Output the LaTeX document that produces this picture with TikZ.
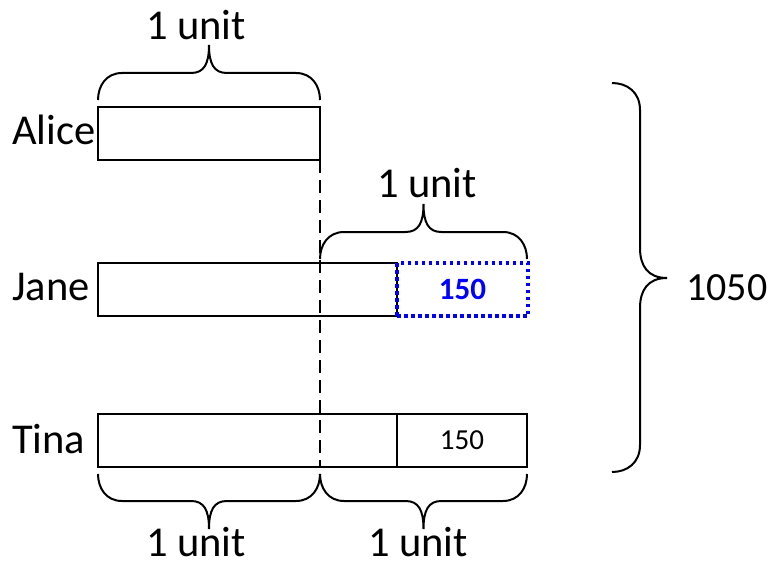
\documentclass[tikz,border=0pt]{standalone}
\usepackage{fontspec}
\setmainfont{Carlito}
\tikzset{
  box/.style={draw, line width=2pt, inner sep=0pt, outer sep=0pt, anchor=north west, minimum height=53pt},
  dotbox/.style={draw=blue, line width=3.5pt, dash pattern=on 3.5pt off 3.5pt, inner sep=0pt, outer sep=0pt, anchor=north west, minimum height=53pt, text=blue, font=\fontsize{31}{34}\selectfont\bfseries},
  brace line/.style={draw, line width=2pt},
  big/.style={font=\fontsize{42.5}{50}\selectfont, inner sep=0pt},
  total/.style={font=\fontsize{40}{48}\selectfont, inner sep=0pt},
  small/.style={font=\fontsize{29}{32}\selectfont},
  guide/.style={line width=1.5pt, dash pattern=on 13pt off 7pt}
}
\newcommand{\HBrace}[4]{%
  \pgfmathsetmacro\bmid{(#1+#2)/2}%
  \draw[brace line] (#1,#3) .. controls ({#1},{#3+14*(#4)}) and ({#1+8},{#3+27*(#4)}) .. ({#1+24},{#3+27*(#4)})
    -- ({\bmid-18},{#3+27*(#4)}) .. controls ({\bmid-5},{#3+27*(#4)}) and ({\bmid},{#3+36*(#4)}) .. ({\bmid},{#3+55*(#4)})
    .. controls ({\bmid},{#3+36*(#4)}) and ({\bmid+5},{#3+27*(#4)}) .. ({\bmid+18},{#3+27*(#4)})
    -- ({#2-24},{#3+27*(#4)}) .. controls ({#2-8},{#3+27*(#4)}) and ({#2},{#3+14*(#4)}) .. ({#2},{#3});}
\begin{document}
\begin{tikzpicture}[x=1pt,y=-1pt]
\useasboundingbox (0,0) rectangle (771,567);
% boxes
\node[box, minimum width=222pt] (alice) at (98,107) {};
\node[box, minimum width=299pt] (jane) at (98,263) {};
\node[dotbox, minimum width=131pt] (janeextra) at (397,263) {150};
\node[box, minimum width=299pt] (tinaA) at (98,414) {};
\node[box, minimum width=130pt, small] (tinaB) at (397,414) {150};
% names
\node[big, anchor=base west] (lalice) at (12,145) {Alice};
\node[big, anchor=base west] (ljane) at (12,300) {Jane};
\node[big, anchor=base west] (ltina) at (12,453) {Tina};
% dashed guide
\coordinate (gend) at (320,467);
\draw[guide] (alice.south east) -- (gend);
% braces
\HBrace{98}{320}{100}{-1}
\HBrace{320}{527}{259}{-1}
\HBrace{98}{320}{474}{1}
\HBrace{320}{527}{474}{1}
\draw[brace line] (612,83) .. controls (627,83) and (640,92) .. (640,110)
  -- (640,248) .. controls (640,266) and (648,278) .. (667,278)
  .. controls (648,278) and (640,290) .. (640,308)
  -- (640,445) .. controls (640,463) and (627,472) .. (612,472);
% brace labels
\node[big, anchor=base] (u1) at (196,40) {1 unit};
\node[big, anchor=base] (u2) at (427,197) {1 unit};
\node[big, anchor=base] (u3) at (196,556) {1 unit};
\node[big, anchor=base] (u4) at (418,556) {1 unit};
\node[total, anchor=base west] (totallabel) at (686,300) {1050};
\end{tikzpicture}
\end{document}
